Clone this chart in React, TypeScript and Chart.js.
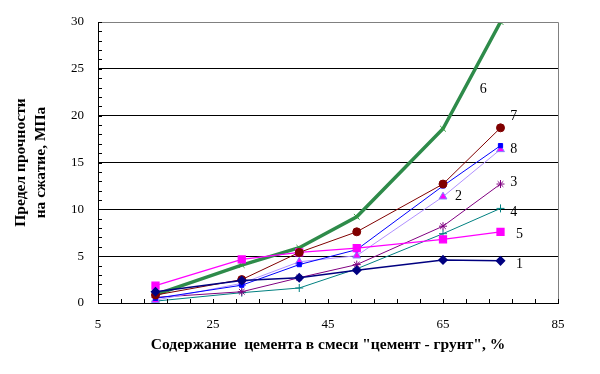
import React, { useEffect, useRef } from "react";
import { Chart, registerables } from "chart.js";

Chart.register(...registerables);

const cementPct = [15, 30, 40, 50, 65, 75];

const s1 = [1.2, 2.4, 2.7, 3.5, 4.6, 4.5];
const s2 = [0.3, 2.1, 4.4, 5.05, 11.35, 16.4];
const s3 = [0.6, 1.2, 2.7, 4.1, 8.2, 12.7];
const s4 = [0.2, 1.1, 1.6, 3.65, 7.4, 10.1];
const s5 = [1.85, 4.65, 5.4, 5.85, 6.8, 7.6];
const s6 = [0.9, 4.05, 5.9, 9.2, 18.6, 30];
const s7 = [0.85, 2.5, 5.4, 7.6, 12.7, 18.7];
const s8 = [0.5, 1.9, 4.1, 5.7, 12.5, 16.8];

const curveLabels = ["1", "2", "3", "4", "5", "6", "7", "8"];
const labelX = [78.3, 67.7, 77.3, 77.3, 78.3, 72.0, 77.3, 77.3];
const labelY = [4.16, 11.35, 12.85, 9.7, 7.36, 22.8, 19.96, 16.4];

const xTitle = 'Содержание  цемента в смеси "цемент - грунт", %';
const yTitle = ["Предел прочности", "на сжатие, МПа"];

const toPts = (ys: number[]) => ys.map((y, i) => ({ x: cementPct[i], y }));

export default function App() {
  const ref = useRef<HTMLCanvasElement>(null);
  useEffect(() => {
    if (!ref.current) return;
    const serif = "'Liberation Serif', 'Times New Roman', serif";
    const extras = {
      id: "extras",
      afterDraw(chart: any) {
        const { ctx, chartArea: a, scales } = chart;
        const xs = scales.x, ys = scales.y;
        ctx.save();
        ctx.strokeStyle = "#808080";
        ctx.lineWidth = 1;
        ctx.beginPath();
        ctx.moveTo(a.left, Math.round(a.top) + 0.5);
        ctx.lineTo(Math.round(a.right) + 0.5, Math.round(a.top) + 0.5);
        ctx.lineTo(Math.round(a.right) + 0.5, a.bottom);
        ctx.stroke();
        ctx.strokeStyle = "#000";
        ctx.beginPath();
        for (let v = 0; v <= 30; v += 1) {
          const y = Math.round(ys.getPixelForValue(v)) + 0.5;
          ctx.moveTo(a.left, y);
          ctx.lineTo(a.left + 4, y);
        }
        for (let v = 5; v <= 85; v += 4) {
          const x = Math.round(xs.getPixelForValue(v)) + 0.5;
          ctx.moveTo(x, a.bottom);
          ctx.lineTo(x, a.bottom - 4);
        }
        ctx.stroke();
        ctx.fillStyle = "#000";
        ctx.font = `14px ${serif}`;
        ctx.textAlign = "center";
        ctx.textBaseline = "middle";
        curveLabels.forEach((t, i) => {
          ctx.fillText(t, xs.getPixelForValue(labelX[i]), ys.getPixelForValue(labelY[i]));
        });
        ctx.restore();
      },
    };
    const chart = new Chart(ref.current, {
      type: "scatter",
      data: {
        datasets: [
          { label: "1", data: toPts(s1), showLine: true, borderColor: "#000080", backgroundColor: "#000080", borderWidth: 1.5, pointStyle: "rectRot", pointRadius: 4 },
          { label: "7", data: toPts(s7), showLine: true, borderColor: "#800000", backgroundColor: "#800000", borderWidth: 1, pointStyle: "circle", pointRadius: 4 },
          { label: "5", data: toPts(s5), showLine: true, borderColor: "#ff00ff", backgroundColor: "#ff00ff", borderWidth: 1.2, pointStyle: "rect", pointRadius: 5 },
          { label: "8", data: toPts(s8), showLine: true, borderColor: "#0000ff", backgroundColor: "#0000ff", borderWidth: 1, pointStyle: "rect", pointRadius: 3 },
          { label: "2", data: toPts(s2), showLine: true, borderColor: "#b090ff", backgroundColor: "#ff00ff", pointBorderColor: "#8080ff", borderWidth: 1, pointStyle: "triangle", pointRadius: 4.5 },
          { label: "3", data: toPts(s3), showLine: true, borderColor: "#800080", backgroundColor: "#800080", borderWidth: 1, pointStyle: "star", pointRadius: 4 },
          { label: "4", data: toPts(s4), showLine: true, borderColor: "#008080", backgroundColor: "#008080", borderWidth: 1, pointStyle: "cross", pointRadius: 4 },
          { label: "6", data: toPts(s6), showLine: true, borderColor: "#2e8b4a", backgroundColor: "#3aa34a", pointBorderColor: "#2f9a3a", borderWidth: 3.5, pointBorderWidth: 1, pointStyle: "crossRot", pointRadius: 4 },
        ],
      },
      options: {
        animation: false,
        responsive: false,
        maintainAspectRatio: false,
        layout: { padding: { left: 0, top: 22, right: 42, bottom: 0 } },
        plugins: { legend: { display: false }, tooltip: { enabled: false } },
        scales: {
          x: {
            type: "linear",
            min: 5,
            max: 85,
            afterFit: (s: any) => { s.height = 71; },
            ticks: { stepSize: 20, padding: 14, color: "#000", font: { family: serif, size: 13 } },
            grid: { display: false, drawTicks: false },
            border: { display: true, color: "#000", width: 1 },
            title: { display: true, text: xTitle, color: "#000", font: { family: serif, size: 15.5, weight: "bold" }, padding: { top: 0, bottom: 20 } },
          },
          y: {
            type: "linear",
            min: 0,
            max: 30,
            afterFit: (s: any) => { s.width = 98; },
            ticks: { stepSize: 5, padding: 14, color: "#000", font: { family: serif, size: 13 } },
            grid: { drawTicks: false, color: (c: any) => (c.tick && c.tick.value === 30 ? "rgba(0,0,0,0)" : "#000"), lineWidth: 1 },
            border: { display: true, color: "#000", width: 1 },
            title: { display: true, text: yTitle, color: "#000", font: { family: serif, size: 15.5, weight: "bold", lineHeight: "20px" }, padding: { top: 11, bottom: 0 } },
          },
        },
      },
      plugins: [extras],
    });
    return () => chart.destroy();
  }, []);
  return (
    <div style={{ position: "absolute", left: 0, top: 0, width: 600, height: 374, background: "#fff" }}>
      <canvas ref={ref} width={600} height={374} style={{ width: 600, height: 374 }} />
    </div>
  );
}
